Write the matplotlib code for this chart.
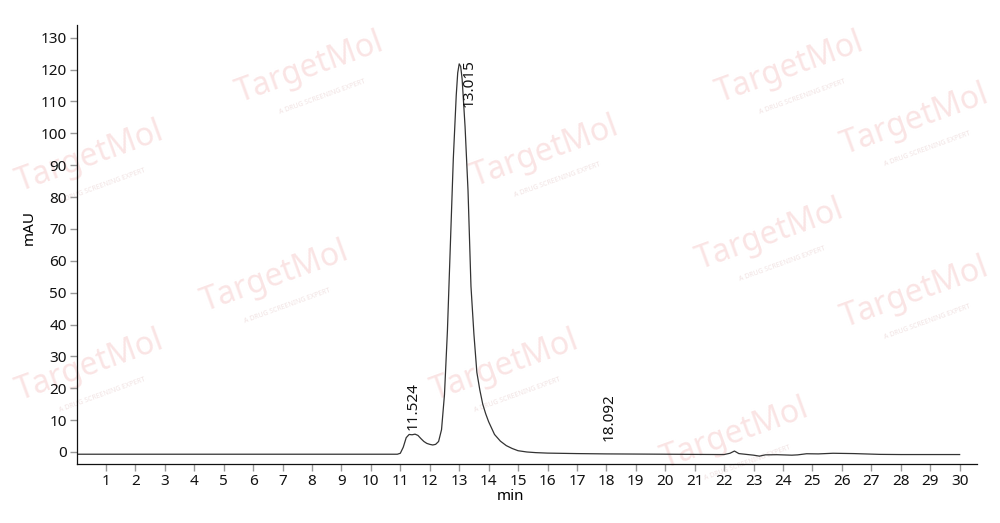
import numpy as np
import matplotlib.pyplot as plt

plt.rcParams['font.family'] = ['Noto Sans', 'DejaVu Sans']

# chromatogram trace (min, mAU)
t = [0.0, 10.9, 11.0, 11.1, 11.2, 11.3, 11.4, 11.5, 11.6, 11.7, 11.8, 11.9,
     12.0, 12.1, 12.2, 12.3, 12.4, 12.5, 12.6, 12.7, 12.8, 12.9, 12.95, 13.0,
     13.05, 13.1, 13.2, 13.3, 13.4, 13.5, 13.6, 13.7, 13.8, 13.9, 14.0, 14.2,
     14.4, 14.6, 14.8, 15.0, 15.3, 15.6, 16.0, 17.0, 18.0, 19.0, 20.0, 21.0,
     22.0, 22.2, 22.35, 22.5, 22.8, 23.0, 23.2, 23.4, 23.8, 24.3, 24.5, 24.8,
     25.2, 25.7, 26.4, 27.3, 28.0, 30.0]
mau = [-0.7, -0.7, -0.4, 1.5, 4.5, 5.5, 5.4, 5.6, 5.2, 4.2, 3.3, 2.7,
       2.4, 2.2, 2.4, 3.3, 7.0, 18.0, 38.0, 65.0, 92.0, 112.0, 119.0, 121.8,
       121.0, 117.0, 102.0, 82.0, 52.0, 37.0, 25.0, 19.5, 15.0, 12.0, 9.5, 5.5,
       3.4, 2.0, 1.1, 0.4, 0.0, -0.2, -0.35, -0.5, -0.6, -0.65, -0.7, -0.75,
       -0.8, -0.4, 0.3, -0.5, -0.8, -1.0, -1.3, -0.9, -0.85, -1.0, -0.9, -0.55,
       -0.6, -0.4, -0.5, -0.75, -0.8, -0.8]

peak_labels = ['11.524', '13.015', '18.092']
peak_x = [11.45, 13.33, 18.092]
peak_y = [6.9, 108.3, 3.3]

x_ticks = list(range(1, 31))
y_ticks = list(range(0, 131, 10))

fig = plt.figure(figsize=(10, 5.23), dpi=100)
ax = fig.add_axes([0.0765, 0.1128, 0.9008, 0.8394])

# faint watermark, drawn behind the axes
marks = [(0.31, 0.87), (0.09, 0.70), (0.79, 0.87), (0.545, 0.71), (0.915, 0.77),
         (0.275, 0.47), (0.77, 0.55), (0.915, 0.44), (0.505, 0.30),
         (0.09, 0.30), (0.735, 0.17)]
for mx, my in marks:
    fig.text(mx, my, 'TargetMol', fontsize=23, fontweight='bold',
             color='#fae4e4', rotation=20, ha='center', va='center', zorder=-2)
    fig.text(mx + 0.012, my - 0.055, 'A DRUG SCREENING EXPERT', fontsize=5,
             color='#f1e3e3', rotation=20, ha='center', va='center', zorder=-2)

ax.patch.set_alpha(0)
ax.plot(t, mau, color='#333333', linewidth=0.9)

for lab, px, py in zip(peak_labels, peak_x, peak_y):
    ax.text(px, py, lab, rotation=90, ha='center', va='bottom', fontsize=11,
            color='#111111')

ax.set_xlim(0, 30.6)
ax.set_ylim(-3.77, 134)
ax.set_xticks(x_ticks)
ax.set_yticks(y_ticks)
ax.tick_params(axis='both', length=5, width=1, color='#999999', pad=2,
               labelsize=11, labelcolor='#111111')

for side in ['top', 'right']:
    ax.spines[side].set_visible(False)
for side in ['left', 'bottom']:
    ax.spines[side].set_linewidth(0.9)
    ax.spines[side].set_color('#111111')

ax.set_xlabel('min', fontsize=11)
ax.set_ylabel('mAU', fontsize=11)
ax.xaxis.set_label_coords(0.482, -0.057)
ax.yaxis.set_label_coords(-0.044, 0.538)

fig.savefig('out.png', dpi=100)
